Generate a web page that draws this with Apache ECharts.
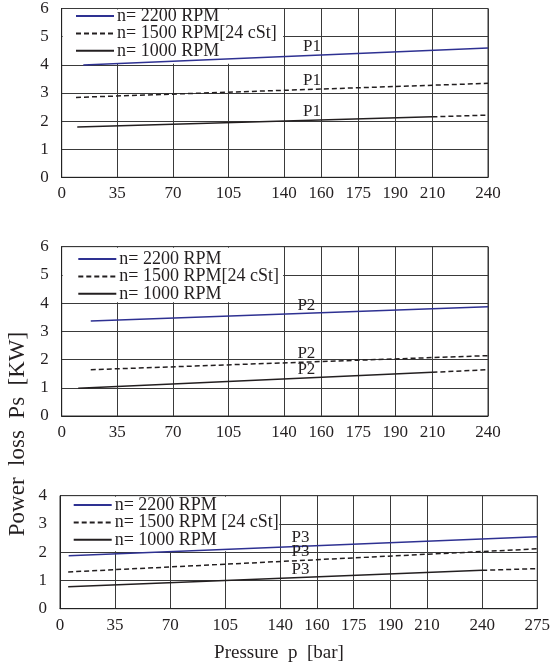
<!DOCTYPE html>
<html>
<head>
<meta charset="utf-8">
<script src="https://cdn.jsdelivr.net/npm/echarts@6/dist/echarts.min.js"></script>
<style>
  html, body { margin: 0; padding: 0; background: #fff; }
  #chart { width: 553px; height: 668px; }
</style>
</head>
<body>
<div id="chart"></div>
<script>
// pressure tick labels (bar) of the x axes
const pressureTicks12 = [0, 35, 70, 105, 140, 160, 175, 190, 210, 240];
const pressureTicks3 = [0, 35, 70, 105, 140, 160, 175, 190, 210, 240, 275];

const namesP12 = ['n= 2200 RPM', 'n= 1500 RPM[24 cSt]', 'n= 1000 RPM'];
const namesP3 = ['n= 2200 RPM', 'n= 1500 RPM [24 cSt]', 'n= 1000 RPM'];

// [pressure bar, power loss kW]
const p1n2200 = [[13.6, 3.99], [240, 4.60]];
const p1n1500 = [[9, 2.84], [240, 3.34]];
const p1n1000 = [[9.8, 1.79], [210, 2.15]];
const p1n1000ext = [[210, 2.15], [240, 2.21]];
const p1LabelAt = 155;
const p1LabelValues = [4.33, 3.12, 2.02];

const p2n2200 = [[18.3, 3.37], [240, 3.87]];
const p2n1500 = [[18.3, 1.64], [240, 2.14]];
const p2n1000 = [[10.4, 0.98], [210, 1.55]];
const p2n1000ext = [[210, 1.55], [240, 1.64]];
const p2LabelAt = 152;
const p2LabelValues = [3.63, 1.91, 1.35];

const p3n2200 = [[5.5, 1.87], [275, 2.55]];
const p3n1500 = [[5.2, 1.30], [275, 2.12]];
const p3n1000 = [[5.2, 0.78], [240, 1.36]];
const p3n1000ext = [[240, 1.36], [275, 1.42]];
const p3LabelAt = 151;
const p3LabelValues = [2.21, 1.71, 1.10];

const FONT = 'Liberation Serif';
const TEXT = '#231f20';
const BLUE = '#2e3192';
const GRIDLINE = '#3a3a3a';
const legendCoverPressure = 140;

// the printed axis is not linear: wide gaps are 1.5 units, narrow gaps 1 unit
function tickPositions(ticks) {
    let pos = [0];
    for (let i = 1; i < ticks.length; i++) {
        pos.push(pos[i - 1] + (ticks[i] - ticks[i - 1] >= 30 ? 1.5 : 1));
    }
    return pos;
}

function toPos(p, ticks) {
    const pos = tickPositions(ticks);
    for (let i = 1; i < ticks.length; i++) {
        if (p <= ticks[i]) {
            const t = (p - ticks[i - 1]) / (ticks[i] - ticks[i - 1]);
            return pos[i - 1] + t * (pos[i] - pos[i - 1]);
        }
    }
    return pos[pos.length - 1];
}

const panels = [
    {
        ticks: pressureTicks12, yMax: 6, cover: 4, names: namesP12, tag: 'P1',
        lines: [p1n2200, p1n1500, p1n1000, p1n1000ext], labelAt: p1LabelAt, labelValues: p1LabelValues,
        grid: { left: 61.7, top: 8.3, width: 426.3, height: 169 },
        legend: { left: 75, top: 7 }
    },
    {
        ticks: pressureTicks12, yMax: 6, cover: 4, names: namesP12, tag: 'P2',
        lines: [p2n2200, p2n1500, p2n1000, p2n1000ext], labelAt: p2LabelAt, labelValues: p2LabelValues,
        grid: { left: 61.7, top: 246.7, width: 426.3, height: 169.3 },
        legend: { left: 77.3, top: 250 }
    },
    {
        ticks: pressureTicks3, yMax: 4, cover: 2, names: namesP3, tag: 'P3',
        lines: [p3n2200, p3n1500, p3n1000, p3n1000ext], labelAt: p3LabelAt, labelValues: p3LabelValues,
        grid: { left: 60, top: 495.7, width: 482.3, height: 113 },
        legend: { left: 72.7, top: 496 }
    }
];

let grids = [], xAxes = [], yAxes = [], legends = [], series = [];

panels.forEach((panel, i) => {
    const pos = tickPositions(panel.ticks);
    const maxPos = pos[pos.length - 1];
    const lineColors = [];
    for (let k = 0; k <= maxPos * 2; k++) {
        lineColors.push(pos.indexOf(k / 2) > -1 ? GRIDLINE : 'rgba(0,0,0,0)');
    }

    grids.push(Object.assign({ show: true, borderColor: '#333', borderWidth: 1, backgroundColor: 'transparent' }, panel.grid));

    xAxes.push({
        type: 'value', gridIndex: i, min: 0, max: maxPos, interval: 0.5,
        axisLine: { show: true, lineStyle: { color: '#222' } },
        axisTick: { show: false },
        axisLabel: {
            margin: 8, fontFamily: FONT, fontSize: 17, color: TEXT,
            formatter: (value) => {
                const idx = pos.findIndex((q) => Math.abs(q - value) < 1e-6);
                return idx > -1 ? String(panel.ticks[idx]) : '';
            }
        },
        splitLine: { show: true, lineStyle: { color: lineColors, width: 1 } }
    });

    yAxes.push({
        type: 'value', gridIndex: i, min: 0, max: panel.yMax, interval: 1,
        axisLine: { show: true, lineStyle: { color: '#222' } },
        axisTick: { show: false },
        axisLabel: { margin: 13, fontFamily: FONT, fontSize: 17, color: TEXT, padding: [4, 0, 0, 0] },
        splitLine: { show: true, lineStyle: { color: GRIDLINE, width: 1 } }
    });

    legends.push({
        data: panel.names, orient: 'vertical', left: panel.legend.left, top: panel.legend.top,
        itemWidth: 38, itemHeight: 14, itemGap: -0.6, padding: 0, selectedMode: false,
        itemStyle: { opacity: 0 },
        textStyle: { fontFamily: FONT, fontSize: 18, lineHeight: 17, color: TEXT, padding: [0, 0, 0, -2] }
    });

    const styles = [
        { name: panel.names[0], color: BLUE, type: 'solid' },
        { name: panel.names[1], color: TEXT, type: [5, 3] },
        { name: panel.names[2], color: TEXT, type: 'solid' },
        { name: panel.names[2], color: TEXT, type: [5, 3] }
    ];
    styles.forEach((st, k) => {
        let s = {
            type: 'line', name: st.name, xAxisIndex: i, yAxisIndex: i,
            symbol: 'none', silent: true, animation: false,
            data: panel.lines[k].map((d) => [toPos(d[0], panel.ticks), d[1]]),
            lineStyle: { color: st.color, width: 1.5, type: st.type },
            itemStyle: { color: st.color }
        };
        if (k < 3) {
            s.markPoint = {
                symbol: 'circle', symbolSize: 0, silent: true, animation: false,
                label: {
                    show: true, position: 'top', distance: 0, formatter: panel.tag,
                    fontFamily: FONT, fontSize: 17, color: TEXT
                },
                data: [{ coord: [toPos(panel.labelAt, panel.ticks), panel.labelValues[k]] }]
            };
        }
        series.push(s);
    });
});

const chart = echarts.init(document.getElementById('chart'), null, { renderer: 'canvas' });
chart.setOption({
    animation: false,
    backgroundColor: '#fff',
    grid: grids,
    xAxis: xAxes,
    yAxis: yAxes,
    legend: legends,
    series: series,
    graphic: [
        {
            type: 'text', id: 'ytitle', x: 18, y: 434, rotation: Math.PI / 2, z: 5,
            style: { text: 'Power  loss  Ps  [KW]', fontFamily: FONT, fontSize: 23, fill: TEXT, align: 'center', verticalAlign: 'middle' }
        },
        {
            type: 'text', id: 'xtitle', x: 279, y: 653, z: 5,
            style: { text: 'Pressure  p  [bar]', fontFamily: FONT, fontSize: 19, fill: TEXT, align: 'center', verticalAlign: 'middle' }
        }
    ]
});

// white box behind each legend hides the grid under it
let covers = panels.map((panel, i) => {
    const a = chart.convertToPixel({ gridIndex: i }, [0, panel.yMax]);
    const b = chart.convertToPixel({ gridIndex: i }, [toPos(legendCoverPressure, panel.ticks), panel.cover]);
    return {
        type: 'rect', id: 'cover' + i, z: 1, silent: true,
        shape: { x: a[0] + 1, y: a[1] + 1, width: b[0] - a[0] - 2, height: b[1] - a[1] - 2 },
        style: { fill: '#fff' }
    };
});
chart.setOption({ graphic: covers });
</script>
</body>
</html>
